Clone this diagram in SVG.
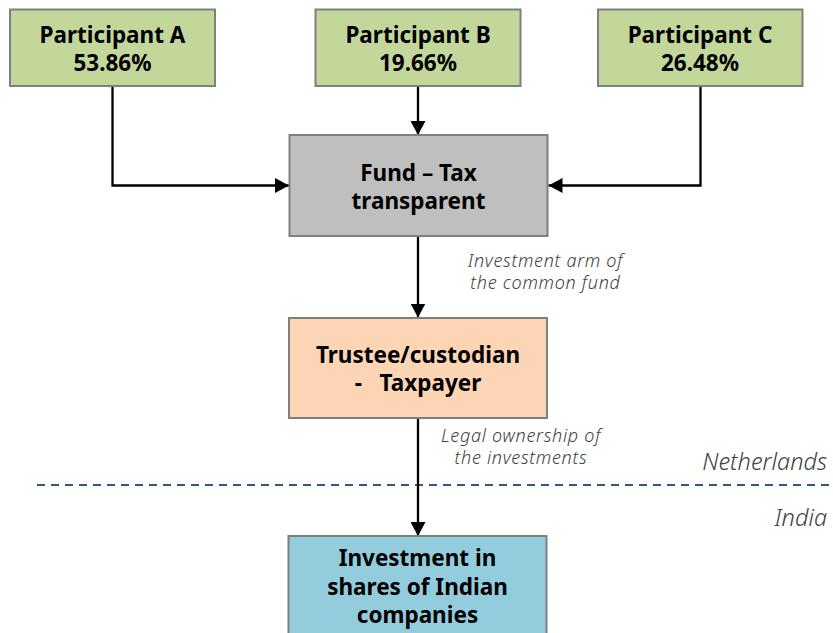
<svg xmlns="http://www.w3.org/2000/svg" width="833" height="633" viewBox="0 0 833 633">
  <defs>
    <marker id="arrow" markerUnits="userSpaceOnUse" markerWidth="15" markerHeight="15" refX="14" refY="7.5" orient="auto">
      <path d="M0,0 L14,7.5 L0,15 z" fill="#000"/>
    </marker>
    <style>
      .box { stroke: #7f7f7f; stroke-width: 2; }
      .green { fill: #c4d79b; }
      .grey { fill: #bfbfbf; }
      .peach { fill: #fcd5b5; }
      .blue { fill: #93cddd; }
      .title { font-family: "Noto Sans", "Open Sans", sans-serif; font-weight: bold; font-size: 22.5px; fill: #000; text-anchor: middle; }
      .note { font-family: "Noto Sans", "Open Sans", sans-serif; font-weight: 300; font-style: italic; font-size: 18px; letter-spacing: 0.7px; fill: #404040; text-anchor: middle; }
      .region { font-family: "Noto Sans", "Open Sans", sans-serif; font-weight: 300; font-style: italic; font-size: 23.5px; fill: #404040; text-anchor: end; }
      .link { fill: none; stroke: #000; stroke-width: 2.3; marker-end: url(#arrow); }
    </style>
  </defs>

  <rect width="833" height="633" fill="#fff"/>

  <!-- border between the two jurisdictions -->
  <line x1="37" y1="485" x2="833" y2="485" stroke="#2e5a8e" stroke-width="2" stroke-dasharray="8,6"/>
  <text class="region" x="827" y="470">Netherlands</text>
  <text class="region" x="827" y="526">India</text>

  <g id="connectors">
    <path class="link" d="M112.5,86 V185.5 H289"/>
    <path class="link" d="M700.5,86 V185.5 H548.5"/>
    <path class="link" d="M418,86 V135"/>
    <path class="link" d="M418,236 V317.5"/>
    <path class="link" d="M418,418 V536"/>
    <text class="note" x="545.5" y="266.5">Investment arm of</text>
    <text class="note" x="545.5" y="289">the common fund</text>
    <text class="note" x="521" y="441.5">Legal ownership of</text>
    <text class="note" x="521" y="463.5">the investments</text>
  </g>

  <g id="participant-a">
    <rect class="box green" x="10" y="9.5" width="205" height="76.5"/>
    <text class="title" x="112.5" y="43">Participant A</text>
    <text class="title" x="112.5" y="71">53.86%</text>
  </g>

  <g id="participant-b">
    <rect class="box green" x="315.5" y="9.5" width="205" height="76.5"/>
    <text class="title" x="418" y="43">Participant B</text>
    <text class="title" x="418" y="71">19.66%</text>
  </g>

  <g id="participant-c">
    <rect class="box green" x="598" y="9.5" width="204.5" height="76.5"/>
    <text class="title" x="700" y="43">Participant C</text>
    <text class="title" x="700" y="71">26.48%</text>
  </g>

  <g id="fund">
    <rect class="box grey" x="289.5" y="135" width="258" height="101"/>
    <text class="title" x="418.5" y="181">Fund – Tax</text>
    <text class="title" x="418.5" y="209">transparent</text>
  </g>

  <g id="trustee">
    <rect class="box peach" x="289" y="318" width="258" height="100"/>
    <text class="title" x="418" y="363">Trustee/custodian</text>
    <text class="title" x="418" y="391" xml:space="preserve">-   Taxpayer</text>
  </g>

  <g id="investment">
    <rect class="box blue" x="288.5" y="536" width="258" height="110"/>
    <text class="title" x="417.5" y="566">Investment in</text>
    <text class="title" x="417.5" y="594.5">shares of Indian</text>
    <text class="title" x="417.5" y="623">companies</text>
  </g>
</svg>
